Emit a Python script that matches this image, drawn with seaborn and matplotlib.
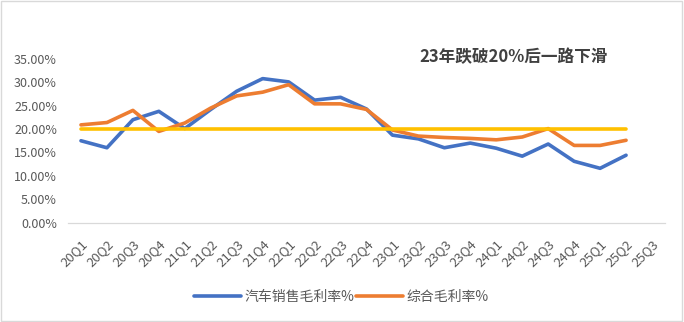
import matplotlib
matplotlib.use("Agg")
import matplotlib.pyplot as plt
import seaborn as sns
import pandas as pd
import numpy as np
from matplotlib.patches import Rectangle
from matplotlib.lines import Line2D
from matplotlib.ticker import PercentFormatter

quarters = ["20Q1", "20Q2", "20Q3", "20Q4", "21Q1", "21Q2", "21Q3", "21Q4",
            "22Q1", "22Q2", "22Q3", "22Q4", "23Q1", "23Q2", "23Q3", "23Q4",
            "24Q1", "24Q2", "24Q3", "24Q4", "25Q1", "25Q2", "25Q3"]
auto_margin = [17.5, 16.0, 22.0, 23.8, 20.1, 24.2, 28.1, 30.8, 30.1, 26.2, 26.8, 24.3,
               18.7, 17.9, 16.0, 17.0, 15.9, 14.2, 16.8, 13.1, 11.6, 14.4]
total_margin = [20.9, 21.4, 24.0, 19.5, 21.3, 24.5, 27.1, 27.9, 29.5, 25.4, 25.4, 24.2,
                19.8, 18.5, 18.2, 18.0, 17.7, 18.3, 20.1, 16.5, 16.5, 17.6]
threshold = [20.0] * 22
series_names = ["汽车销售毛利率%", "综合毛利率%", "基准线"]
colors = ["#4472C4", "#ED7D31", "#FFC000"]

rows = []
for name, vals in zip(series_names, [auto_margin, total_margin, threshold]):
    for i, v in enumerate(vals):
        rows.append({"idx": i, "value": v / 100.0, "series": name})
df = pd.DataFrame(rows)

sns.set_theme(style="white")
plt.rcParams["font.family"] = ["Noto Sans CJK SC", "DejaVu Sans"]

fig = plt.figure(figsize=(6.84, 3.22), dpi=100)
ax = fig.add_axes([68/684, 1 - 222.5/322, (665 - 68)/684, (222.5 - 59)/322])

sns.lineplot(data=df, x="idx", y="value", hue="series", hue_order=series_names,
             palette=colors, linewidth=2.6, ax=ax, legend=False,
             estimator=None, sort=False)

ax.set_xlim(-0.5, len(quarters) - 0.5)
ax.set_ylim(0, 0.35)
ax.set_yticks(np.arange(0, 0.351, 0.05))
ax.yaxis.set_major_formatter(PercentFormatter(1.0, decimals=2))
ax.set_xticks(range(len(quarters)))
ax.set_xticklabels(quarters, rotation=45, ha="right", rotation_mode="anchor")
ax.set_xticks(np.arange(-0.5, len(quarters), 1), minor=True)
ax.tick_params(axis="x", which="major", length=0, pad=11, labelsize=9.5, labelcolor="#595959")
ax.tick_params(axis="x", which="minor", length=4, color="#D9D9D9", width=0.8)
ax.tick_params(axis="y", length=0, labelsize=9, labelcolor="#595959", pad=8)
ax.set_xlabel("")
ax.set_ylabel("")
for s in ["top", "right", "left"]:
    ax.spines[s].set_visible(False)
ax.spines["bottom"].set_color("#D9D9D9")
ax.spines["bottom"].set_linewidth(0.9)

fig.text(514/684, 1 - 57/322, "23年跌破20%后一路下滑", ha="center", va="center",
         fontsize=12, fontweight="bold", color="#404040")

handles = [Line2D([0], [0], color=colors[0], lw=2.6),
           Line2D([0], [0], color=colors[1], lw=2.6)]
fig.legend(handles, series_names[:2], loc="center", bbox_to_anchor=(341/684, 1 - 297/322),
           ncol=2, frameon=False, fontsize=10, handlelength=3.4, columnspacing=0.1,
           handletextpad=0.25, labelcolor="#595959")

fig.patches.append(Rectangle((0.002, 0.003), 0.995, 0.993, transform=fig.transFigure,
                             fill=False, edgecolor="#D9D9D9", linewidth=1.0))

fig.savefig("out.png", dpi=100, facecolor="white")
